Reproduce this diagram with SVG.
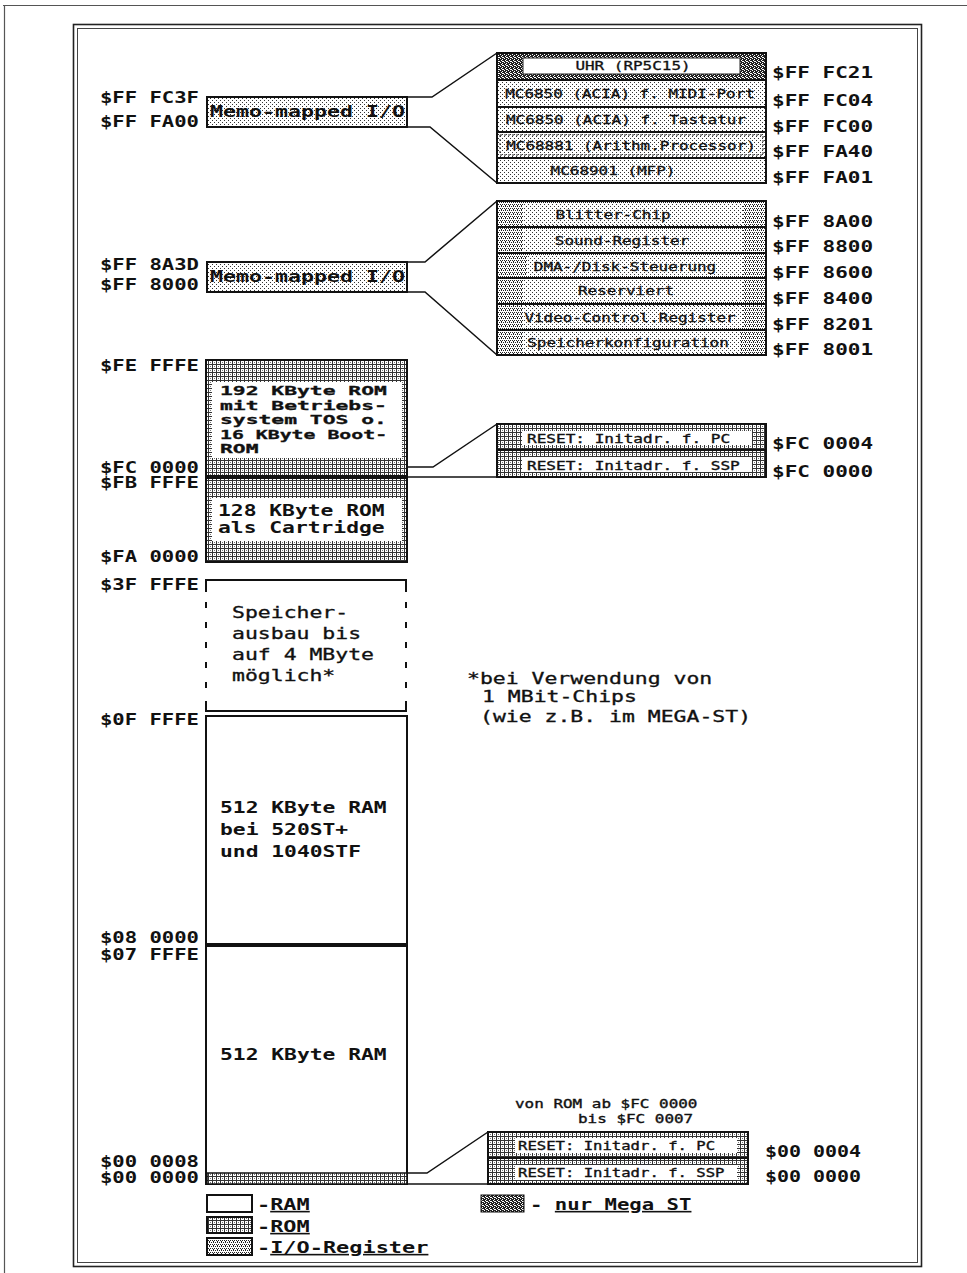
<svg xmlns="http://www.w3.org/2000/svg" width="967" height="1273" viewBox="0 0 967 1273">
<style>
text{font-family:"DejaVu Sans Mono","Liberation Mono",monospace;fill:#111}
.addr{font-size:15px;font-weight:bold}
.big{font-size:15px;font-weight:bold}
.tight{font-size:12.4px;font-weight:bold;stroke:#111;stroke-width:0.3}
.memo{font-size:16px;font-weight:bold}
.med{font-size:15px;stroke:#111;stroke-width:0.3}
.row{font-size:12px;text-anchor:middle;stroke:#111;stroke-width:0.3}
.note{font-size:12px;stroke:#111;stroke-width:0.35}
.leg{font-size:16px;font-weight:bold}
.box{stroke:#111;stroke-width:2}
.con{stroke:#111;stroke-width:1.5;fill:none}
</style>
<defs>
<pattern id="rom" width="4" height="4" patternUnits="userSpaceOnUse">
<rect width="4" height="4" fill="#fff"/><rect width="4" height="1" fill="#333"/><rect width="1" height="4" fill="#333"/><rect x="2" y="2" width="1" height="1" fill="#777"/>
</pattern>
<pattern id="io" width="4" height="4" patternUnits="userSpaceOnUse">
<rect width="4" height="4" fill="#fff"/><rect x="0" y="0" width="1" height="1" fill="#222"/><rect x="2" y="0" width="1" height="1" fill="#222"/><rect x="1" y="2" width="1" height="1" fill="#222"/><rect x="3" y="2" width="1" height="1" fill="#222"/><rect x="1" y="1" width="1" height="1" fill="#222"/>
</pattern>
<pattern id="dots" width="4" height="4" patternUnits="userSpaceOnUse">
<rect width="4" height="4" fill="#fff"/><rect x="0" y="0" width="1" height="1" fill="#333"/><rect x="2" y="2" width="1" height="1" fill="#333"/>
</pattern>
<pattern id="mega" width="4" height="4" patternUnits="userSpaceOnUse">
<rect width="4" height="4" fill="#222"/><rect x="1" y="0" width="1" height="1" fill="#fff"/><rect x="3" y="1" width="1" height="1" fill="#fff"/><rect x="0" y="2" width="1" height="1" fill="#fff"/><rect x="2" y="3" width="1" height="1" fill="#fff"/><rect x="2" y="1" width="1" height="1" fill="#fff"/>
</pattern>
</defs>
<rect width="967" height="1273" fill="#fff"/>
<g id="frame">
<path d="M3 5.5H967M4.5 5V1273" stroke="#555" stroke-width="1.2" fill="none"/>
<rect x="73.5" y="24.5" width="848" height="1242" fill="none" stroke="#222" stroke-width="1.6"/>
<rect x="77.5" y="28.5" width="840" height="1234" fill="none" stroke="#444" stroke-width="1"/>
</g>

<g id="connectors">
<polyline class="con" points="407,97 432,97 497,53"/>
<polyline class="con" points="407,127 430,127 497,183"/>
<polyline class="con" points="407,262 425,262 497,201"/>
<polyline class="con" points="407,292 425,292 497,355"/>
<polyline class="con" points="407,467 433,467 497,424"/>
<line class="con" x1="407" y1="477" x2="497" y2="477"/>
<polyline class="con" points="408,1173 427,1173 488,1132"/>
<line class="con" x1="408" y1="1184" x2="488" y2="1184"/>
</g>

<g id="memo1">
<rect class="box" x="207" y="97" width="200" height="30" fill="url(#dots)"/>
<text class="memo" transform="translate(210,117) scale(1.35,1)">Memo-mapped I/O</text>
<text class="addr" transform="translate(100,103) scale(1.37,1)">$FF FC3F</text>
<text class="addr" transform="translate(100,127) scale(1.37,1)">$FF FA00</text>
</g>

<g id="stack1">
<rect class="box" x="497" y="53" width="269" height="27" fill="url(#mega)"/>
<rect x="523" y="58" width="217" height="16" fill="#fff" stroke="#222" stroke-width="1"/>
<text class="row" transform="translate(633,70) scale(1.33,1)">UHR (RP5C15)</text>
<rect class="box" x="497" y="80" width="269" height="27" fill="url(#dots)"/>
<text class="row" transform="translate(630,98) scale(1.33,1)">MC6850 (ACIA) f. MIDI-Port</text>
<rect class="box" x="497" y="107" width="269" height="25" fill="url(#dots)"/>
<text class="row" transform="translate(626,124) scale(1.33,1)">MC6850 (ACIA) f. Tastatur</text>
<rect class="box" x="497" y="132" width="269" height="26" fill="url(#dots)"/>
<rect x="500" y="135" width="263" height="20" fill="none" stroke="#222" stroke-width="1" stroke-dasharray="2 2"/>
<text class="row" transform="translate(631,150) scale(1.33,1)">MC68881 (Arithm.Processor)</text>
<rect class="box" x="497" y="158" width="269" height="25" fill="url(#dots)"/>
<text class="row" transform="translate(613,175) scale(1.33,1)">MC68901 (MFP)</text>
<text class="addr" transform="translate(772,78) scale(1.4,1)">$FF FC21</text>
<text class="addr" transform="translate(772,106) scale(1.4,1)">$FF FC04</text>
<text class="addr" transform="translate(772,132) scale(1.4,1)">$FF FC00</text>
<text class="addr" transform="translate(772,157) scale(1.4,1)">$FF FA40</text>
<text class="addr" transform="translate(772,183) scale(1.4,1)">$FF FA01</text>
</g>

<g id="memo2">
<rect class="box" x="207" y="262" width="200" height="30" fill="url(#dots)"/>
<text class="memo" transform="translate(210,282) scale(1.35,1)">Memo-mapped I/O</text>
<text class="addr" transform="translate(100,270) scale(1.37,1)">$FF 8A3D</text>
<text class="addr" transform="translate(100,290) scale(1.37,1)">$FF 8000</text>
</g>

<g id="stack2">
<rect class="box" x="497" y="201" width="269" height="26" fill="url(#io)"/>
<rect x="523" y="203" width="220" height="22" fill="url(#dots)"/>
<text class="row" transform="translate(613,219) scale(1.33,1)">Blitter-Chip</text>
<rect class="box" x="497" y="227" width="269" height="26" fill="url(#io)"/>
<rect x="523" y="229" width="220" height="22" fill="url(#dots)"/>
<text class="row" transform="translate(622,245) scale(1.33,1)">Sound-Register</text>
<rect class="box" x="497" y="253" width="269" height="25" fill="url(#io)"/>
<rect x="527" y="255" width="216" height="21" fill="url(#dots)"/>
<text class="row" transform="translate(625,271) scale(1.33,1)">DMA-/Disk-Steuerung</text>
<rect class="box" x="497" y="278" width="269" height="26" fill="url(#io)"/>
<rect x="523" y="280" width="220" height="22" fill="url(#dots)"/>
<text class="row" transform="translate(626,295) scale(1.33,1)">Reserviert</text>
<rect class="box" x="497" y="304" width="269" height="26" fill="url(#io)"/>
<rect x="523" y="306" width="220" height="22" fill="url(#dots)"/>
<text class="row" transform="translate(630,322) scale(1.33,1)">Video-Control.Register</text>
<rect class="box" x="497" y="330" width="269" height="25" fill="url(#io)"/>
<rect x="523" y="332" width="217" height="21" fill="url(#dots)"/>
<text class="row" transform="translate(628,347) scale(1.33,1)">Speicherkonfiguration</text>
<text class="addr" transform="translate(772,227) scale(1.4,1)">$FF 8A00</text>
<text class="addr" transform="translate(772,252) scale(1.4,1)">$FF 8800</text>
<text class="addr" transform="translate(772,278) scale(1.4,1)">$FF 8600</text>
<text class="addr" transform="translate(772,304) scale(1.4,1)">$FF 8400</text>
<text class="addr" transform="translate(772,330) scale(1.4,1)">$FF 8201</text>
<text class="addr" transform="translate(772,355) scale(1.4,1)">$FF 8001</text>
</g>

<g id="rom192">
<rect class="box" x="206" y="360" width="201" height="116" fill="url(#rom)"/>
<rect x="212" y="382" width="190" height="76" fill="#fff"/>
<text class="tight" transform="translate(220,395) scale(1.72,1)">192 KByte ROM</text>
<text class="tight" transform="translate(220,409.5) scale(1.72,1)">mit Betriebs-</text>
<text class="tight" transform="translate(220,424) scale(1.72,1)">system TOS o.</text>
<text class="tight" transform="translate(220,438.5) scale(1.6,1)">16 KByte Boot-</text>
<text class="tight" transform="translate(220,453) scale(1.72,1)">ROM</text>
<text class="addr" transform="translate(100,371) scale(1.37,1)">$FE FFFE</text>
<text class="addr" transform="translate(100,473) scale(1.37,1)">$FC 0000</text>
</g>

<g id="reset1">
<rect class="box" x="497" y="424" width="269" height="26" fill="url(#rom)"/>
<rect x="522" y="431" width="230" height="14" fill="#fff"/>
<text class="note" transform="translate(527,443) scale(1.34,1)">RESET: Initadr. f. PC</text>
<rect class="box" x="497" y="450" width="269" height="27" fill="url(#rom)"/>
<rect x="522" y="457" width="230" height="15" fill="#fff"/>
<text class="note" transform="translate(527,470) scale(1.34,1)">RESET: Initadr. f. SSP</text>
<text class="addr" transform="translate(772,449) scale(1.4,1)">$FC 0004</text>
<text class="addr" transform="translate(772,477) scale(1.4,1)">$FC 0000</text>
</g>

<g id="rom128">
<rect class="box" x="206" y="478" width="201" height="84" fill="url(#rom)"/>
<rect x="212" y="498" width="190" height="43" fill="#fff"/>
<text class="big" transform="translate(218,516) scale(1.42,1)">128 KByte ROM</text>
<text class="big" transform="translate(218,533) scale(1.42,1)">als Cartridge</text>
<text class="addr" transform="translate(100,488) scale(1.37,1)">$FB FFFE</text>
<text class="addr" transform="translate(100,562) scale(1.37,1)">$FA 0000</text>
</g>

<g id="expansion">
<path class="box" d="M205 580H407M205 711H407" fill="none"/>
<path class="box" d="M206 580V711M406 580V711" fill="none" stroke-dasharray="12 10 6 14 6 14 6 14 6 14 6 13 20"/>
<text class="med" transform="translate(232,618) scale(1.43,1)">Speicher-</text>
<text class="med" transform="translate(232,639) scale(1.43,1)">ausbau bis</text>
<text class="med" transform="translate(232,660) scale(1.43,1)">auf 4 MByte</text>
<text class="med" transform="translate(232,681) scale(1.43,1)">möglich*</text>
<text class="addr" transform="translate(100,590) scale(1.37,1)">$3F FFFE</text>
</g>

<g id="footnote">
<text class="med" transform="translate(467,684) scale(1.43,1)">*bei Verwendung von</text>
<text class="med" transform="translate(482,702) scale(1.43,1)">1 MBit-Chips</text>
<text class="med" transform="translate(480,722) scale(1.43,1)">(wie z.B. im MEGA-ST)</text>
</g>

<g id="ram1">
<rect class="box" x="206" y="716" width="201" height="228" fill="#fff"/>
<text class="big" transform="translate(220,813) scale(1.42,1)">512 KByte RAM</text>
<text class="big" transform="translate(220,835) scale(1.42,1)">bei 520ST+</text>
<text class="big" transform="translate(220,857) scale(1.42,1)">und 1040STF</text>
<text class="addr" transform="translate(100,725) scale(1.37,1)">$0F FFFE</text>
<text class="addr" transform="translate(100,943) scale(1.37,1)">$08 0000</text>
</g>

<g id="ram2">
<rect class="box" x="206" y="946" width="201" height="238" fill="#fff"/>
<rect x="207" y="1173" width="200" height="11" fill="url(#rom)" stroke="#111" stroke-width="1.5"/>
<text class="big" transform="translate(220,1060) scale(1.42,1)">512 KByte RAM</text>
<text class="addr" transform="translate(100,960) scale(1.37,1)">$07 FFFE</text>
<text class="addr" transform="translate(100,1167) scale(1.37,1)">$00 0008</text>
<text class="addr" transform="translate(100,1183) scale(1.37,1)">$00 0000</text>
</g>

<g id="reset2">
<text class="note" transform="translate(515,1108) scale(1.33,1)">von ROM ab $FC 0000</text>
<text class="note" transform="translate(578,1123) scale(1.33,1)">bis $FC 0007</text>
<rect class="box" x="488" y="1132" width="260" height="26" fill="url(#rom)"/>
<rect x="515" y="1138" width="222" height="15" fill="#fff"/>
<text class="note" transform="translate(518,1150) scale(1.3,1)">RESET: Initadr. f. PC</text>
<rect class="box" x="488" y="1158" width="260" height="26" fill="url(#rom)"/>
<rect x="515" y="1165" width="222" height="15" fill="#fff"/>
<text class="note" transform="translate(518,1177) scale(1.3,1)">RESET: Initadr. f. SSP</text>
<text class="addr" transform="translate(765,1157) scale(1.33,1)">$00 0004</text>
<text class="addr" transform="translate(765,1182) scale(1.33,1)">$00 0000</text>
</g>

<g id="legend">
<rect class="box" x="207" y="1195" width="45" height="17" fill="#fff"/>
<text class="leg" transform="translate(257,1210) scale(1.37,1)">-<tspan text-decoration="underline">RAM</tspan></text>
<rect class="box" x="207" y="1217" width="45" height="16" fill="url(#rom)"/>
<text class="leg" transform="translate(257,1232) scale(1.37,1)">-<tspan text-decoration="underline">ROM</tspan></text>
<rect class="box" x="207" y="1238" width="45" height="17" fill="url(#io)"/>
<text class="leg" transform="translate(257,1253) scale(1.37,1)">-<tspan text-decoration="underline">I/O-Register</tspan></text>
<rect x="481" y="1195" width="43" height="17" fill="url(#mega)" stroke="#111" stroke-width="1"/>
<text class="leg" transform="translate(530,1210) scale(1.29,1)">- <tspan text-decoration="underline">nur Mega ST</tspan></text>
</g>
</svg>
